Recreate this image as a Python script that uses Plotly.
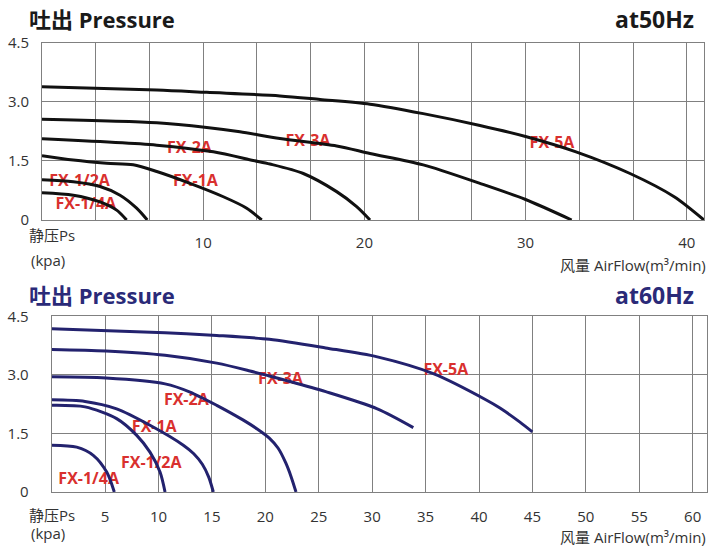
import plotly.graph_objects as go

# ---------------- data: 50 Hz (top chart) ----------------
models = ["FX-1/4A", "FX-1/2A", "FX-1A", "FX-2A", "FX-3A", "FX-5A"]

hz50_flow = {
    "FX-1/4A": [0, 1.94, 3.6, 4.63, 5.25],
    "FX-1/2A": [0, 1.94, 3.6, 4.84, 5.87, 6.53],
    "FX-1A":   [0, 1.94, 4.01, 5.66, 7.12, 9.18, 11.25, 12.7, 13.63],
    "FX-2A":   [0, 7.12, 10.63, 13.11, 14.14, 16.21, 18.28, 19.52, 20.35],
    "FX-3A":   [0, 7.12, 10.22, 12.28, 14.76, 18.28, 20.35, 23.65, 27.17, 30.0, 32.86],
    "FX-5A":   [0, 7.12, 10.22, 14.76, 17.25, 20.35, 23.65, 27.17, 30.0, 33.13, 36.48, 39.22, 41.07],
}
hz50_pressure = {
    "FX-1/4A": [0.69, 0.63, 0.46, 0.25, 0],
    "FX-1/2A": [1.02, 0.97, 0.85, 0.63, 0.30, 0],
    "FX-1A":   [1.63, 1.52, 1.44, 1.40, 1.23, 0.93, 0.59, 0.30, 0],
    "FX-2A":   [2.06, 1.90, 1.73, 1.51, 1.42, 1.18, 0.72, 0.34, 0],
    "FX-3A":   [2.56, 2.47, 2.35, 2.24, 2.07, 1.88, 1.69, 1.40, 0.93, 0.52, 0],
    "FX-5A":   [3.38, 3.30, 3.24, 3.15, 3.06, 2.94, 2.70, 2.40, 2.12, 1.73, 1.18, 0.59, 0],
}
hz50_label_x = [2.72, 2.33, 9.52, 9.15, 16.5, 31.64]
hz50_label_y = [0.38, 0.97, 0.97, 1.80, 1.99, 1.92]

# ---------------- data: 60 Hz (bottom chart) ----------------
hz60_flow = {
    "FX-1/4A": [0, 2.34, 3.89, 5.15, 5.86],
    "FX-1/2A": [0, 3.12, 6.08, 7.96, 9.2, 10.14, 10.61],
    "FX-1A":   [0, 3.12, 6.08, 9.2, 12.32, 13.3, 14.1, 14.7, 15.13],
    "FX-2A":   [0, 5.08, 10.61, 12.95, 15.45, 17.94, 19.2, 20.37, 21.2, 21.9, 22.4, 22.87],
    "FX-3A":   [0, 5.08, 10.61, 15.45, 18.56, 20.37, 22.3, 25.65, 30.48, 33.85],
    "FX-5A":   [0, 10.61, 15.45, 20.37, 25.65, 30.48, 35.72, 40.72, 41.96, 43.83, 44.99],
}
hz60_pressure = {
    "FX-1/4A": [1.20, 1.15, 0.94, 0.51, 0],
    "FX-1/2A": [2.22, 2.18, 1.88, 1.45, 1.02, 0.51, 0],
    "FX-1A":   [2.36, 2.32, 2.13, 1.71, 1.20, 0.98, 0.71, 0.38, 0],
    "FX-2A":   [2.95, 2.92, 2.77, 2.56, 2.22, 1.84, 1.62, 1.38, 1.12, 0.75, 0.40, 0],
    "FX-3A":   [3.65, 3.61, 3.50, 3.30, 3.10, 2.97, 2.83, 2.57, 2.13, 1.65],
    "FX-5A":   [4.18, 4.08, 4.01, 3.91, 3.69, 3.46, 3.03, 2.35, 2.15, 1.79, 1.54],
}
hz60_label_x = [3.46, 9.32, 9.6, 12.6, 21.42, 36.89]
hz60_label_y = [0.31, 0.72, 1.64, 2.33, 2.87, 3.10]

# ---------------- axis ticks ----------------
y_ticks = [0, 1.5, 3.0, 4.5]
y_ticktext = ["0", "1.5", "3.0", "4.5"]
top_x_ticks = [10 / 3 * i for i in range(1, 13)]
top_x_ticktext = ["", "", "10", "", "", "20", "", "", "30", "", "", "40"]
bot_x_ticks = [5, 10, 15, 20, 25, 30, 35, 40, 45, 50, 55, 60]
bot_x_ticktext = [str(v) for v in bot_x_ticks]

# ---------------- styling ----------------
W, H = 709, 546
FONT = "Open Sans, Noto Sans CJK SC, sans-serif"
RED = "#d9302e"
BLACK = "#111111"
NAVY = "#23226e"
TITLE_NAVY = "#2a2a78"
GRID = "#808080"


def px_x(p):
    return p / W


def px_y(p):
    return 1 - p / H


fig = go.Figure()

# labels first so the curves are drawn over them
fig.add_trace(go.Scatter(x=hz50_label_x, y=hz50_label_y, text=models, mode="text",
                         textfont=dict(family=FONT, size=16, color=RED, weight="bold"),
                         xaxis="x", yaxis="y", hoverinfo="skip", showlegend=False))
fig.add_trace(go.Scatter(x=hz60_label_x, y=hz60_label_y, text=models, mode="text",
                         textfont=dict(family=FONT, size=16, color=RED, weight="bold"),
                         xaxis="x2", yaxis="y2", hoverinfo="skip", showlegend=False))

for m in models:
    fig.add_trace(go.Scatter(x=hz50_flow[m], y=hz50_pressure[m], mode="lines", name=m,
                             line=dict(color=BLACK, width=3, shape="spline", smoothing=0.8),
                             xaxis="x", yaxis="y", showlegend=False))
for m in models:
    fig.add_trace(go.Scatter(x=hz60_flow[m], y=hz60_pressure[m], mode="lines", name=m,
                             line=dict(color=NAVY, width=3, shape="spline", smoothing=0.8),
                             xaxis="x2", yaxis="y2", showlegend=False))

axis_common = dict(showgrid=True, gridcolor=GRID, gridwidth=1, showline=True, linecolor=GRID,
                   linewidth=1, mirror=True, zeroline=False, ticks="", automargin=False,
                   tickfont=dict(family=FONT, size=15, color="#333333"), fixedrange=True)

fig.update_layout(
    width=W, height=H,
    margin=dict(l=0, r=0, t=0, b=0, pad=0),
    paper_bgcolor="white", plot_bgcolor="white",
    xaxis=dict(domain=[px_x(42), px_x(704)], range=[0, 41.07], anchor="y",
               tickmode="array", tickvals=top_x_ticks, ticktext=top_x_ticktext,
               ticklabelstandoff=9, **axis_common),
    yaxis=dict(domain=[px_y(220), px_y(42.7)], range=[0, 4.5], anchor="x",
               tickmode="array", tickvals=y_ticks, ticktext=y_ticktext,
               ticklabelstandoff=9, **axis_common),
    xaxis2=dict(domain=[px_x(51.7), px_x(707)], range=[0, 61.34], anchor="y2",
                tickmode="array", tickvals=bot_x_ticks, ticktext=bot_x_ticktext,
                ticklabelstandoff=11, **axis_common),
    yaxis2=dict(domain=[px_y(492), px_y(316.3)], range=[0, 4.5], anchor="x2",
                tickmode="array", tickvals=y_ticks, ticktext=y_ticktext,
                ticklabelstandoff=19, **axis_common),
)

texts = [
    # (text, x px, y px, anchor, size, color, bold)
    ("吐出 Pressure", 27, 19, "left", 22, "#1a1a1a", True),
    ("at50Hz", 696, 19, "right", 23, "#1a1a1a", True),
    ("静压Ps", 27, 235, "left", 15, "#333333", False),
    ("(kpa)", 29, 260, "left", 15, "#333333", False),
    ("风量 AirFlow(m³/min)", 708, 265, "right", 15, "#333333", False),
    ("吐出 Pressure", 27, 295, "left", 22, TITLE_NAVY, True),
    ("at60Hz", 696, 295, "right", 23, TITLE_NAVY, True),
    ("静压Ps", 27, 515, "left", 15, "#333333", False),
    ("(kpa)", 29, 533, "left", 15, "#333333", False),
    ("风量 AirFlow(m³/min)", 708, 537, "right", 15, "#333333", False),
]
for t, x, y, anc, size, color, bold in texts:
    fig.add_annotation(text=t, x=px_x(x), y=px_y(y), xref="paper", yref="paper",
                       xanchor=anc, yanchor="middle", showarrow=False,
                       font=dict(family=FONT, size=size, color=color,
                                 weight="bold" if bold else "normal"))

fig.write_html("out.html", config={"displayModeBar": False, "staticPlot": True},
               post_script="document.body.style.margin='0px';document.body.style.overflow='hidden';")
